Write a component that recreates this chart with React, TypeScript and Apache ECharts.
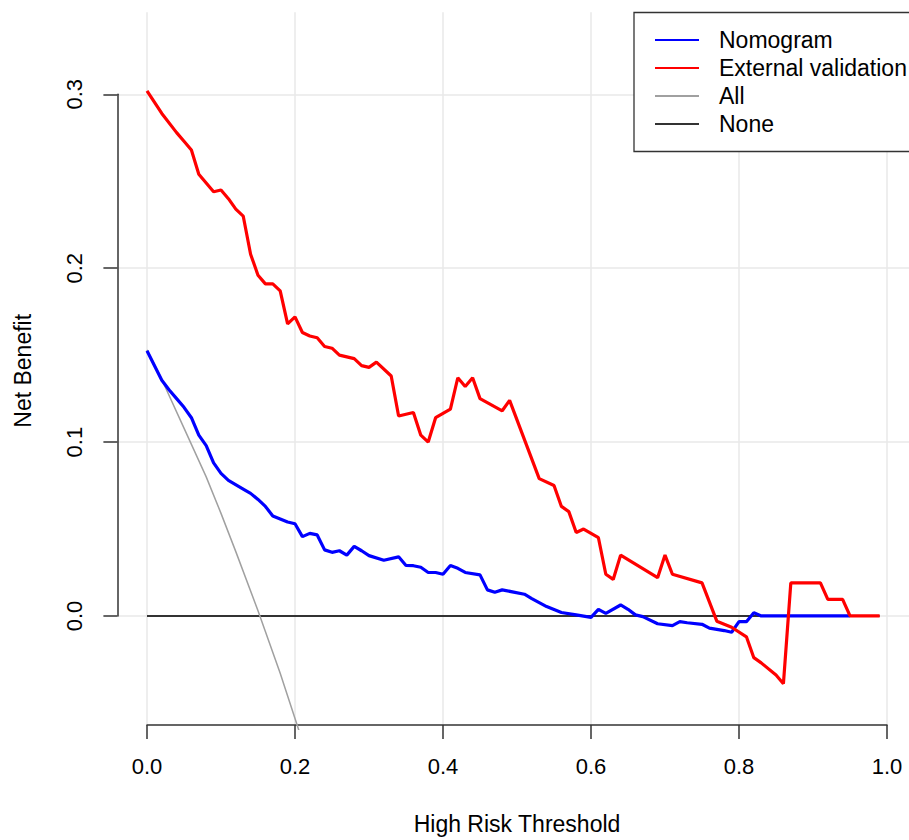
import React, { useEffect, useRef } from "react";
import * as echarts from "echarts";

const seriesNames = ["Nomogram", "External validation", "All", "None"];

const nomogram: [number, number][] = [
  [0, 0.1525], [0.02, 0.1356], [0.03, 0.13], [0.04, 0.125], [0.05, 0.12], [0.06, 0.114],
  [0.07, 0.104], [0.08, 0.098], [0.09, 0.088], [0.1, 0.082], [0.11, 0.078], [0.13, 0.073],
  [0.14, 0.0705], [0.15, 0.067], [0.16, 0.063], [0.17, 0.0575], [0.19, 0.054], [0.2, 0.053],
  [0.21, 0.0456], [0.22, 0.0475], [0.23, 0.0466], [0.24, 0.038], [0.25, 0.0366], [0.26, 0.0375],
  [0.27, 0.035], [0.28, 0.04], [0.29, 0.0375], [0.3, 0.0347], [0.32, 0.032], [0.34, 0.034],
  [0.35, 0.029], [0.36, 0.0289], [0.37, 0.028], [0.38, 0.025], [0.39, 0.025], [0.4, 0.024],
  [0.41, 0.029], [0.42, 0.0274], [0.43, 0.025], [0.45, 0.0236], [0.46, 0.015], [0.47, 0.0136],
  [0.48, 0.015], [0.51, 0.0125], [0.52, 0.01], [0.53, 0.0077], [0.54, 0.0054], [0.56, 0.002],
  [0.58, 0.0006], [0.6, -0.0008], [0.61, 0.0038], [0.62, 0.0015], [0.64, 0.0063], [0.65, 0.0038],
  [0.66, 0.0006], [0.67, -0.0004], [0.69, -0.0045], [0.71, -0.0056], [0.72, -0.0033], [0.73, -0.0039],
  [0.75, -0.0048], [0.76, -0.007], [0.78, -0.0084], [0.79, -0.0094], [0.8, -0.0033], [0.81, -0.0033],
  [0.82, 0.0019], [0.83, 0], [0.95, 0],
];

const externalValidation: [number, number][] = [
  [0, 0.302], [0.02, 0.289], [0.04, 0.278], [0.05, 0.273], [0.06, 0.268], [0.07, 0.254],
  [0.08, 0.249], [0.09, 0.244], [0.1, 0.245], [0.11, 0.24], [0.12, 0.234], [0.13, 0.23],
  [0.14, 0.208], [0.15, 0.196], [0.16, 0.191], [0.17, 0.191], [0.18, 0.187], [0.19, 0.168],
  [0.2, 0.172], [0.21, 0.163], [0.22, 0.161], [0.23, 0.16], [0.24, 0.155], [0.25, 0.154],
  [0.26, 0.15], [0.28, 0.148], [0.29, 0.144], [0.3, 0.143], [0.31, 0.146], [0.33, 0.138],
  [0.34, 0.115], [0.36, 0.117], [0.37, 0.104], [0.38, 0.1], [0.39, 0.114], [0.41, 0.119],
  [0.42, 0.137], [0.43, 0.132], [0.44, 0.137], [0.45, 0.125], [0.48, 0.118], [0.49, 0.124],
  [0.53, 0.079], [0.55, 0.075], [0.56, 0.063], [0.57, 0.06], [0.58, 0.048], [0.59, 0.05],
  [0.61, 0.045], [0.62, 0.024], [0.63, 0.021], [0.64, 0.035], [0.69, 0.022], [0.7, 0.035],
  [0.71, 0.024], [0.75, 0.019], [0.77, -0.003], [0.79, -0.0065], [0.81, -0.012], [0.82, -0.024],
  [0.83, -0.027], [0.85, -0.034], [0.86, -0.039], [0.87, 0.019], [0.91, 0.019], [0.92, 0.0095],
  [0.94, 0.0095], [0.95, 0], [0.99, 0],
];

const treatAll: [number, number][] = [
  [0, 0.153], [0.02, 0.136], [0.05, 0.108], [0.08, 0.08], [0.1, 0.059], [0.12, 0.037],
  [0.15, 0.003], [0.18, -0.033], [0.2, -0.059], [0.21, -0.072],
];

const treatNone: [number, number][] = [
  [0, 0], [0.99, 0],
];

const xTicks = { min: 0, max: 1, interval: 0.2 };
const yTicks = { min: 0, max: 0.3, interval: 0.1 };
const plotX = { min: -0.04, max: 1.0297 };
const plotY = { min: -0.0652, max: 0.3472 };

const FONT = "'Liberation Sans', Arial, Helvetica, sans-serif";
const AXIS_COLOR = "#333333";
const GRID_COLOR = "#e8e8e8";

export default function App() {
  const ref = useRef<HTMLDivElement>(null);

  useEffect(() => {
    if (!ref.current) return;
    const chart = echarts.init(ref.current, undefined, { renderer: "svg" });

    const axisLineStyle = { color: AXIS_COLOR, width: 1.5 };
    const splitLineStyle = { color: GRID_COLOR, width: 1.5 };
    const fmt = (v: number) => v.toFixed(1);

    const option: any = {
      animation: false,
      backgroundColor: "#ffffff",
      textStyle: { fontFamily: FONT },
      grid: [
        { left: 117.4, top: 12.3, width: 791.6, height: 717 },
        { left: 147, top: 12.3, width: 740, height: 717 },
        { left: 117.4, top: 94.3, width: 791.6, height: 521.7 },
      ],
      xAxis: [
        { gridIndex: 0, type: "value", min: plotX.min, max: plotX.max, show: false },
        {
          gridIndex: 1,
          type: "value",
          min: xTicks.min,
          max: xTicks.max,
          interval: xTicks.interval,
          position: "bottom",
          axisLine: { show: true, lineStyle: axisLineStyle },
          axisTick: { show: true, length: 14, lineStyle: axisLineStyle },
          axisLabel: { margin: 30, fontSize: 22, color: "#000", fontFamily: FONT, formatter: fmt },
          splitLine: { show: true, lineStyle: splitLineStyle },
          name: "High Risk Threshold",
          nameLocation: "middle",
          nameGap: 87,
          nameTextStyle: { fontSize: 23, color: "#000", fontFamily: FONT },
        },
        { gridIndex: 2, type: "value", min: 0, max: 1, show: false },
      ],
      yAxis: [
        {
          gridIndex: 0,
          type: "value",
          min: plotY.min,
          max: plotY.max,
          name: "Net Benefit",
          nameLocation: "middle",
          nameGap: 83,
          nameTextStyle: { fontSize: 23, color: "#000", fontFamily: FONT },
          axisLine: { show: false },
          axisTick: { show: false },
          axisLabel: { show: false },
          splitLine: { show: false },
        },
        { gridIndex: 1, type: "value", min: 0, max: 1, show: false },
        {
          gridIndex: 2,
          type: "value",
          min: yTicks.min,
          max: yTicks.max,
          interval: yTicks.interval,
          position: "left",
          axisLine: { show: true, lineStyle: axisLineStyle },
          axisTick: { show: true, length: 14, lineStyle: axisLineStyle },
          axisLabel: { rotate: 90, margin: 32, fontSize: 22, color: "#000", fontFamily: FONT, formatter: fmt },
          splitLine: { show: true, lineStyle: splitLineStyle },
        },
      ],
      legend: {
        data: seriesNames,
        orient: "vertical",
        left: 634,
        top: 12.5,
        padding: [16, 12, 16, 20],
        itemWidth: 44,
        itemHeight: 14,
        itemGap: 5,
        borderColor: "#333333",
        borderWidth: 1.3,
        backgroundColor: "#ffffff",
        itemStyle: { opacity: 0, borderWidth: 0 },
        textStyle: { fontSize: 23, color: "#000", fontFamily: FONT, padding: [0, 0, 0, 15] },
      },
      series: [
        {
          name: seriesNames[3],
          type: "line",
          xAxisIndex: 0,
          yAxisIndex: 0,
          data: treatNone,
          symbol: "none",
          lineStyle: { color: "#333333", width: 2 },
          itemStyle: { color: "#333333" },
          z: 2,
        },
        {
          name: seriesNames[2],
          type: "line",
          xAxisIndex: 0,
          yAxisIndex: 0,
          data: treatAll,
          symbol: "none",
          lineStyle: { color: "#a0a0a0", width: 1.5 },
          itemStyle: { color: "#a0a0a0" },
          z: 3,
        },
        {
          name: seriesNames[0],
          type: "line",
          xAxisIndex: 0,
          yAxisIndex: 0,
          data: nomogram,
          symbol: "none",
          lineStyle: { color: "#0000ff", width: 3.2 },
          itemStyle: { color: "#0000ff" },
          z: 4,
        },
        {
          name: seriesNames[1],
          type: "line",
          xAxisIndex: 0,
          yAxisIndex: 0,
          data: externalValidation,
          symbol: "none",
          lineStyle: { color: "#ff0000", width: 3.2 },
          itemStyle: { color: "#ff0000" },
          z: 5,
        },
      ],
    };

    chart.setOption(option);
    return () => chart.dispose();
  }, []);

  return <div ref={ref} style={{ width: 909, height: 840, position: "absolute", left: 0, top: 0 }} />;
}
